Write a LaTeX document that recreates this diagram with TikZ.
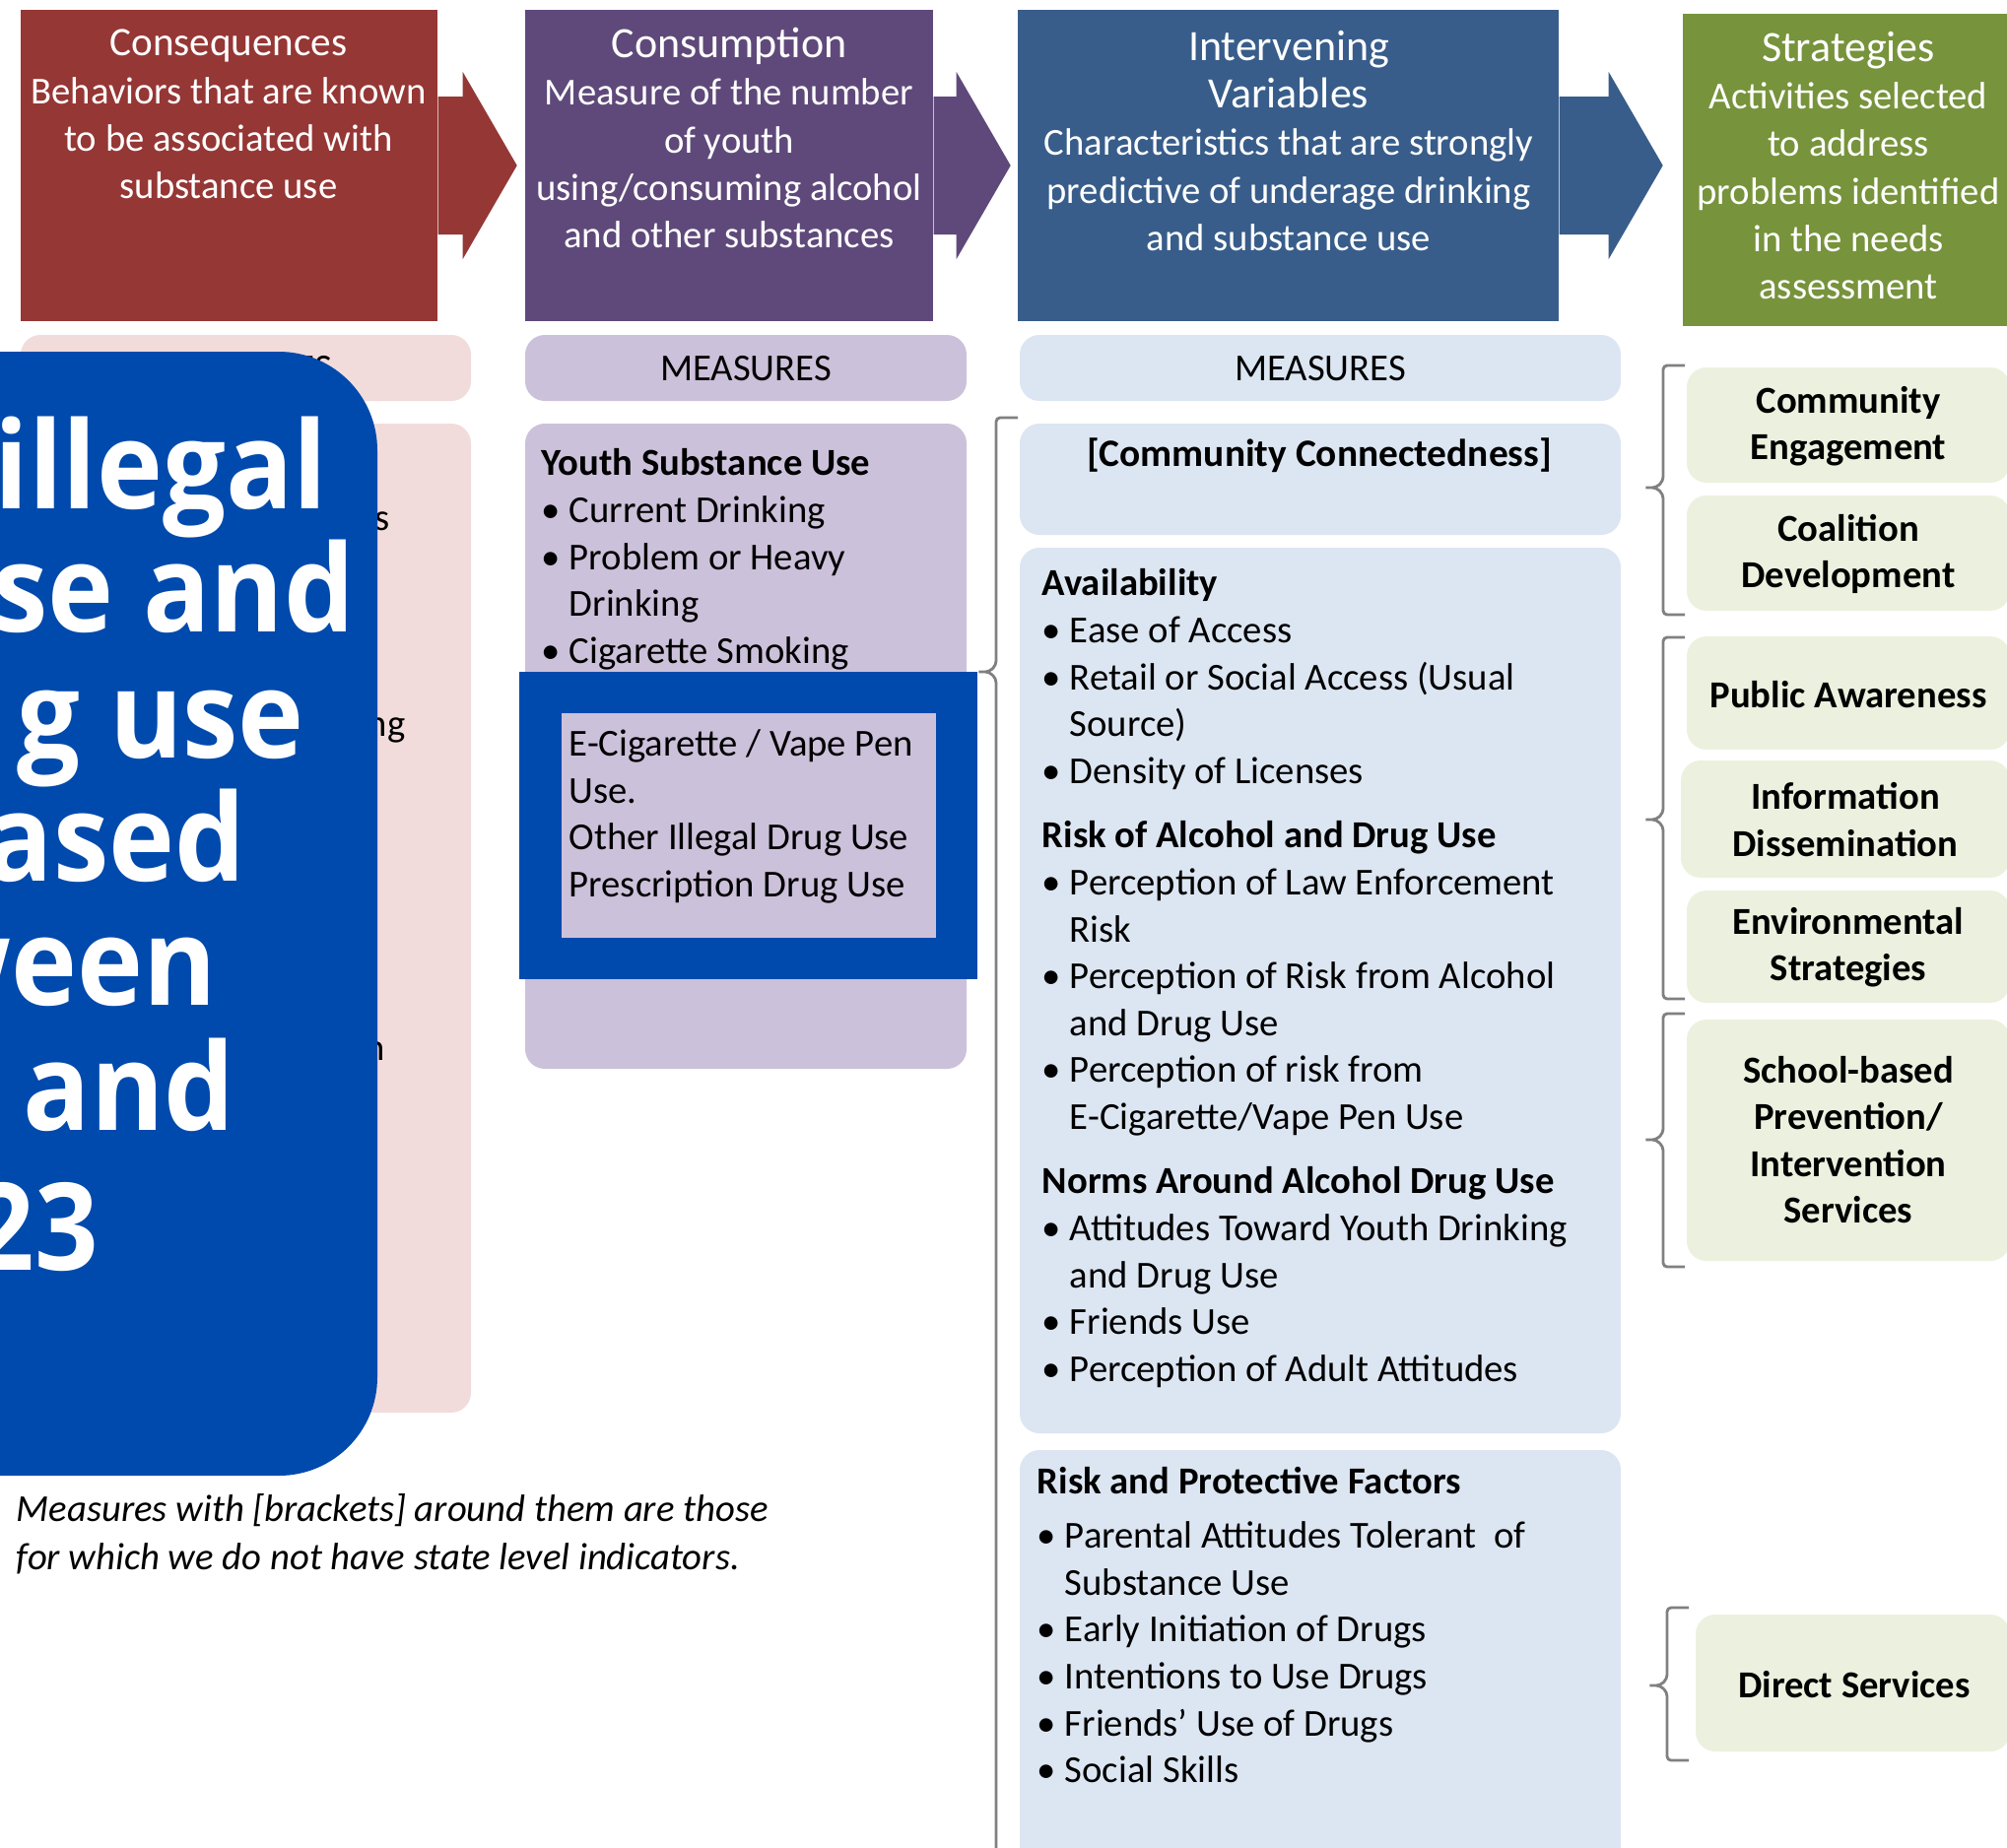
\documentclass[tikz,border=0pt]{standalone}
\usepackage{fontspec}
\setmainfont{Carlito}
\newfontfamily\bannerfont{Open Sans}[FakeStretch=0.92]
\usetikzlibrary{positioning,fit}

\definecolor{consred}{HTML}{953735}
\definecolor{conspurp}{HTML}{5F497A}
\definecolor{intblue}{HTML}{385D8A}
\definecolor{stratgreen}{HTML}{77933C}
\definecolor{lightred}{HTML}{F2DCDB}
\definecolor{lightpurp}{HTML}{CCC1DA}
\definecolor{lightblue}{HTML}{DCE6F2}
\definecolor{lightgreen}{HTML}{EBF1DE}
\definecolor{bannerblue}{HTML}{004AAD}
\definecolor{bracegray}{HTML}{808080}

\tikzset{
    hdr/.style={fill=#1, inner sep=0pt},
    hdrtext/.style={text=white, align=center, font=\fontsize{11}{13.7}\selectfont},
    panel/.style={fill=#1, rounded corners=0.2cm, inner sep=0pt},
    body/.style={anchor=north west, align=left, inner sep=0pt, font=\fontsize{11}{13.55}\selectfont},
    frag/.style={anchor=base west, inner sep=0pt, font=\fontsize{11}{13.7}\selectfont},
    meas/.style={font=\fontsize{11}{13.7}\selectfont},
    strat/.style={align=center, font=\bfseries\fontsize{11}{13.4}\selectfont},
    bracket/.style={draw=bracegray, line width=0.8pt, rounded corners=0.04cm},
    banner/.style={text=white, anchor=base west, inner sep=0pt, font=\bannerfont\bfseries\fontsize{35}{36}\selectfont}
}

\newcommand\bitem{\makebox[8pt][l]{\textbullet}}
\newcommand\bcont{\hspace*{8pt}}
\newcommand\hdrarrow[3]{%
    \fill[#2] (#1.east) ++(0,-70) -- ++(#3,0) -- ++(0,-25) -- ++(55,95)
        -- ++(-55,95) -- ++(0,-25) -- ++(-#3,0) -- cycle;}
\newcommand\sbrace[4]{%
    \draw[bracket] (#1+22,#2) -- (#1,#2) -- (#1,#3-7) -- (#1-7,#3) -- (#1-20,#3)
        -- (#1-7,#3) -- (#1,#3+7) -- (#1,#4) -- (#1+22,#4);}

\begin{document}
\begin{tikzpicture}[x=0.01cm, y=-0.01cm]
    \useasboundingbox (0,0) rectangle (2037,1875);
    \clip (0,0) rectangle (2037,1875);
    \fill[white] (0,0) rectangle (2037,1875);

    % header row
    \node[hdr=consred, fit={(21,10) (444,326)}] (hcons) {};
    \node[hdr=conspurp, fit={(533,10) (947,326)}] (hcnsm) {};
    \node[hdr=intblue, fit={(1033,10) (1582,326)}] (hint) {};
    \node[hdr=stratgreen, fit={(1708,14) (2040,331)}] (hstrat) {};
    \hdrarrow{hcons}{consred}{25}
    \hdrarrow{hcnsm}{conspurp}{23}
    \hdrarrow{hint}{intblue}{50}

    \node[hdrtext] (tcons) at (232,116) {{\fontsize{11.7}{13.7}\selectfont Consequences}\\Behaviors that are known\\to be associated with\\substance use};
    \node[hdrtext] (tcnsm) at (740,140) {{\fontsize{12.5}{13.7}\selectfont Consumption}\\Measure of the number\\of youth\\using/consuming alcohol\\and other substances};
    \node[hdrtext] (tint) at (1308,143) {{\fontsize{12.5}{14.8}\selectfont Intervening}\\{\fontsize{12.5}{14.8}\selectfont Variables}\\Characteristics that are strongly\\predictive of underage drinking\\and substance use};
    \node[hdrtext] (tstrat) at (1876,168) {{\fontsize{12.5}{13.7}\selectfont Strategies}\\Activities selected\\to address\\problems identified\\in the needs\\assessment};

    % measures row
    \node[panel=lightred, fit={(21,340) (478,407)}] (mcons) {};
    \node[panel=lightpurp, fit={(533,340) (981,407)}] (mcnsm) {};
    \node[panel=lightblue, fit={(1035,340) (1645,407)}] (mint) {};
    \node[meas] (tmcons) at (250,374) {MEASURES};
    \node[meas] (tmcnsm) at (757,374) {MEASURES};
    \node[meas] (tmint) at (1340,374) {MEASURES};

    % panels
    \node[panel=lightred, fit={(21,430) (478,1434)}] (pcons) {};
    \node[panel=lightpurp, fit={(533,430) (981,1085)}] (pcnsm) {};
    \node[panel=lightblue, fit={(1035,430) (1645,543)}] (pcc) {};
    \node[panel=lightblue, fit={(1035,556) (1645,1455)}] (pavail) {};
    \node[panel=lightblue, fit={(1035,1472) (1645,1900)}] (prpf) {};

    \node[frag] (fr1) at (380,538) {s};
    \node[frag] (fr2) at (372,747) {ng};
    \node[frag] (fr3) at (370,1076) {n};

    \node[body] (ysu) at (549,455) {\textbf{Youth Substance Use}\\
        \bitem Current Drinking\\
        \bitem Problem or Heavy\\
        \bcont Drinking\\
        \bitem Cigarette Smoking};

    \node[fill=lightpurp, draw=bannerblue, line width=0.42cm, inner sep=0pt,
        fit={(548.5,703) (971,972.5)}] (frame) {};
    \node[body] (odu) at (577,740) {E-Cigarette / Vape Pen\\Use.\\Other Illegal Drug Use\\Prescription Drug Use};

    \node[font=\bfseries\fontsize{11.2}{14}\selectfont] (cc) at (1339,462) {[Community Connectedness]};

    \node[body] (avail) at (1057,577) {\textbf{Availability}\\
        \bitem Ease of Access\\
        \bitem Retail or Social Access (Usual\\
        \bcont Source)\\
        \bitem Density of Licenses\\[5pt]
        \textbf{Risk of Alcohol and Drug Use}\\
        \bitem Perception of Law Enforcement\\
        \bcont Risk\\
        \bitem Perception of Risk from Alcohol\\
        \bcont and Drug Use\\
        \bitem Perception of risk from\\
        \bcont E-Cigarette/Vape Pen Use\\[5pt]
        \textbf{Norms Around Alcohol Drug Use}\\
        \bitem Attitudes Toward Youth Drinking\\
        \bcont and Drug Use\\
        \bitem Friends Use\\
        \bitem Perception of Adult Attitudes};

    \node[body] (rpf) at (1052,1489) {\textbf{Risk and Protective Factors}\\[2pt]
        \bitem Parental Attitudes Tolerant~ of\\
        \bcont Substance Use\\
        \bitem Early Initiation of Drugs\\
        \bitem Intentions to Use Drugs\\
        \bitem Friends' Use of Drugs\\
        \bitem Social Skills};

    % strategies
    \node[panel=lightgreen, fit={(1712,373) (2040,490)}] (sce) {};
    \node[panel=lightgreen, fit={(1712,503) (2040,620)}] (scd) {};
    \node[panel=lightgreen, fit={(1712,646) (2040,761)}] (spa) {};
    \node[panel=lightgreen, fit={(1706,772) (2040,891)}] (sid) {};
    \node[panel=lightgreen, fit={(1712,904) (2040,1018)}] (ses) {};
    \node[panel=lightgreen, fit={(1712,1035) (2040,1280)}] (ssb) {};
    \node[panel=lightgreen, fit={(1721,1639) (2040,1778)}] (sds) {};
    \node[strat] (tsce) at (1876,433) {Community\\Engagement};
    \node[strat] (tscd) at (1876,562) {Coalition\\Development};
    \node[strat] (tspa) at (1876,705) {Public Awareness};
    \node[strat] (tsid) at (1873,832) {Information\\Dissemination};
    \node[strat] (tses) at (1876,962) {Environmental\\Strategies};
    \node[strat] (tssb) at (1876,1157) {School-based\\Prevention/\\Intervention\\Services};
    \node[strat] (tsds) at (1882,1710) {Direct Services};

    % brackets
    \sbrace{1688}{371}{495}{624}
    \sbrace{1688}{647}{832}{1014}
    \sbrace{1688}{1029}{1157}{1286}
    \sbrace{1692}{1632}{1711}{1787}
    \sbrace{1011}{424}{682}{1900}

    \node[body, font=\itshape\fontsize{11}{14}\selectfont] (note) at (16,1516) {Measures with [brackets] around them are those\\for which we do not have state level indicators.};

    % banner
    \node[fill=bannerblue, rounded corners=1cm, inner sep=0pt, fit={(-150,357) (383,1498)}] (banner) {};
    \foreach \w/\x/\y [count=\i] in {illegal/-6/516, se and/-8/641, g use/17/769, ased/-15/894, ween/-86/1020, and/23/1147, 23/-30/1289}
        \node[banner] (ban\i) at (\x,\y) {\w};
\end{tikzpicture}
\end{document}
